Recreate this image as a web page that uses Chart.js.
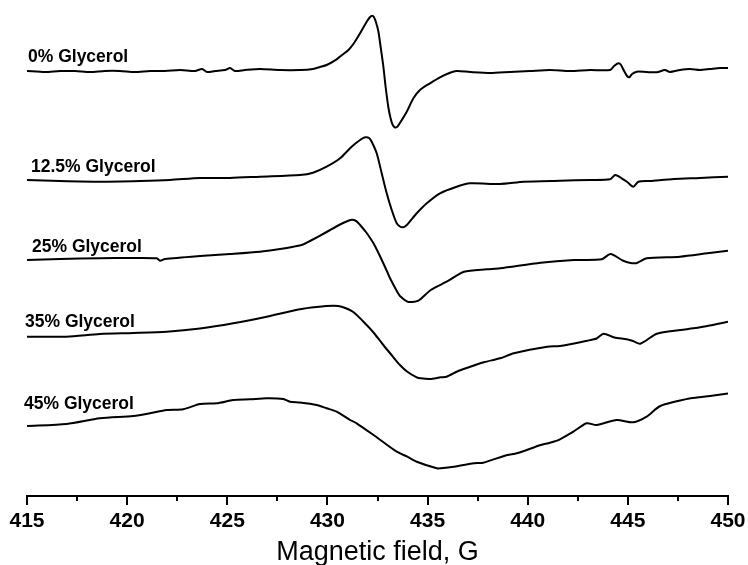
<!DOCTYPE html>
<html>
<head>
<meta charset="utf-8">
<script src="https://cdn.jsdelivr.net/npm/chart.js@4.4.1/dist/chart.umd.min.js"></script>
<style>
  html, body { margin: 0; padding: 0; background: #ffffff; }
  #wrap { width: 748px; height: 565px; }
</style>
</head>
<body>
<div id="wrap"><canvas id="c" width="748" height="565"></canvas></div>
<script>
// ---- data (magnetic field in G, EPR signal in arbitrary units, traces stacked) ----
const seriesNames = ["0% Glycerol", "12.5% Glycerol", "25% Glycerol", "35% Glycerol", "45% Glycerol"];
const xTicks = [415, 420, 425, 430, 435, 440, 445, 450];

const field0 = [415.00,415.90,416.65,417.40,418.15,418.89,419.64,420.39,421.14,421.89,422.64,423.39,423.74,423.99,424.39,424.89,425.14,425.38,425.88,426.63,427.63,428.63,429.28,429.63,429.96,430.46,430.73,431.05,431.33,431.63,431.96,432.13,432.23,432.32,432.42,432.54,432.65,432.79,432.90,433.04,433.15,433.25,433.37,433.50,433.62,433.96,434.29,434.62,435.12,435.62,436.12,436.45,437.12,438.12,439.11,440.11,441.11,442.11,443.11,444.11,444.31,444.53,444.66,444.81,444.96,445.07,445.21,445.45,445.91,446.44,446.85,447.10,447.60,448.10,448.60,449.10,449.60,450.00];
const signal0 = [425,424,425,425,424,425,425,424,425,425,426,425,427,424,425,426,428,425,426,427,426,426,427,429,431,436.7,441,446,453,462.7,474.3,479,480.3,479,474,465,450,430,410,389,378,371.5,368.5,369.5,373,384.3,397.7,406,412.7,418.7,423.3,425,424,423,424,425,426,425,426,426,430,432.7,431,425,420,418.7,422,424.3,424,423.7,426,424,426,427,426,427,428,428];

const field1 = [415.00,416.65,418.64,420.64,422.14,423.64,425.14,426.63,428.63,429.28,429.96,430.63,431.21,431.63,431.88,432.08,432.21,432.46,432.71,432.96,433.21,433.46,433.62,433.76,433.87,434.04,434.46,434.96,435.62,436.45,437.12,438.62,439.81,441.61,443.11,444.11,444.36,444.51,444.69,444.97,445.27,445.52,446.10,447.30,448.60,450.00];
const signal1 = [316,315,314.3,315,316,318,318,319.3,321,323.3,329.3,337.7,349.3,356,358.7,358,354.3,342.7,322.7,302.7,286,272.7,269.5,268.7,269.5,272.7,282.7,292.7,302.7,309.3,312.7,312,314.3,315.3,316,316.7,321,320,317.7,314,309.3,314.3,315,317,318,319.3];

const field2 = [415.00,416.65,418.64,420.14,421.48,421.64,421.89,423.64,425.14,426.63,427.63,428.30,428.78,429.13,429.96,430.63,431.16,431.43,431.63,431.96,432.13,432.32,432.62,432.99,433.12,433.49,433.62,433.99,434.22,434.54,435.16,435.95,436.82,437.95,438.62,440.65,442.31,443.69,444.14,444.77,445.37,445.94,447.60,448.97,450.00];
const signal2 = [236,237,237.7,238,237.7,235.3,237,240,242,244.3,247,249.3,251.5,255,264,271.5,276,275,271,263,258,252,240,224,218,204,200,194.3,194,195.3,206,214.3,224.3,226.7,227.7,233.3,236,236.7,242,235.3,232.7,237.7,239.3,242.7,245.3];

const field3 = [415.00,416.98,418.64,420.31,421.97,423.64,425.30,426.97,428.63,429.46,430.29,430.71,431.29,431.96,432.32,432.79,433.16,433.62,433.99,434.46,434.66,435.12,435.66,435.95,436.48,436.95,437.81,438.62,439.31,440.98,441.61,442.97,443.44,443.79,444.33,444.94,445.26,445.62,446.45,447.64,448.27,448.97,450.00];
const signal3 = [159.3,159.3,162,163,164.3,167.5,172.7,179.3,186.8,189,190.2,189.3,184,171,163,151,142,131,124.3,118.7,117.7,117,118.7,119.3,124.5,128,133.7,137.7,142.7,149.3,150,155.3,157.5,162.3,158.5,156.7,155,152.3,162.3,166,167.7,170,174.3];

const field4 = [415.00,416.98,418.64,420.31,421.14,421.97,422.80,423.64,424.47,425.30,426.13,426.97,427.80,428.13,428.63,429.46,429.96,430.46,431.13,431.46,432.37,433.46,433.99,434.46,435.46,435.66,436.12,437.32,437.78,438.98,439.45,440.65,441.11,441.61,442.28,442.94,443.44,444.44,445.27,445.94,446.62,448.13,449.10,450.00];
const signal4 = [70,72,77.7,80,82.7,86,86.7,92,92.7,96,96.7,97.7,97,94.3,93.5,91,87.7,84.3,76,72.7,60,44.3,39.3,34.3,27.7,27.7,28.7,32.7,33.3,41,42.7,51,53.3,56.7,64.3,72.7,71,76,73.7,79.3,90,97.7,100,102.5];

const fields = [field0, field1, field2, field3, field4];
const signals = [signal0, signal1, signal2, signal3, signal4];

// ---- styling for the in-plot trace labels (offsets in px from first point) ----
const labelStyle = [
  { dx: 1, dy: -9 },
  { dx: 4, dy: -8 },
  { dx: 5, dy: -8 },
  { dx: -2, dy: -10 },
  { dx: -3, dy: -17 }
];

const datasets = seriesNames.map((name, i) => ({
  label: name,
  data: fields[i].map((x, k) => ({ x: x, y: signals[i][k] })),
  borderColor: '#000000',
  borderWidth: 2,
  pointRadius: 0,
  fill: false,
  tension: 0.25
}));

const traceLabels = {
  id: 'traceLabels',
  afterDatasetsDraw(chart) {
    const ctx = chart.ctx;
    const xs = chart.scales.x, ys = chart.scales.y;
    ctx.save();
    ctx.fillStyle = '#000';
    ctx.font = 'bold 17.5px "Liberation Sans", Arial, sans-serif';
    ctx.textAlign = 'left';
    ctx.textBaseline = 'alphabetic';
    seriesNames.forEach((name, i) => {
      const px = xs.getPixelForValue(fields[i][0]) + labelStyle[i].dx;
      const py = ys.getPixelForValue(signals[i][0]) + labelStyle[i].dy;
      ctx.fillText(name, px, py);
    });
    ctx.restore();
  }
};

const tickMarks = {
  id: 'tickMarks',
  afterDraw(chart) {
    const ctx = chart.ctx;
    const xs = chart.scales.x;
    const y0 = chart.chartArea.bottom;
    ctx.save();
    ctx.strokeStyle = '#000';
    ctx.lineWidth = 2;
    ctx.beginPath();
    for (let v = xTicks[0]; v <= xTicks[xTicks.length - 1] + 1e-9; v += 2.5) {
      const major = Math.abs(v / 5 - Math.round(v / 5)) < 1e-6;
      const px = Math.round(xs.getPixelForValue(v));
      ctx.moveTo(px, y0);
      ctx.lineTo(px, y0 + (major ? 9 : 5));
    }
    ctx.stroke();
    ctx.restore();
  }
};

new Chart(document.getElementById('c'), {
  type: 'line',
  data: { datasets },
  options: {
    responsive: false,
    animation: false,
    devicePixelRatio: 1,
    layout: { padding: { left: 27, right: 20, top: 0, bottom: 0 } },
    plugins: { legend: { display: false }, tooltip: { enabled: false } },
    scales: {
      x: {
        type: 'linear',
        min: 415, max: 450,
        grid: { display: false, drawTicks: false },
        border: { display: true, color: '#000', width: 2 },
        afterBuildTicks(scale) { scale.ticks = xTicks.map(v => ({ value: v })); },
        afterFit(scale) { scale.height = 69; scale.paddingLeft = 0; scale.paddingRight = 0; },
        ticks: {
          color: '#000',
          padding: 13,
          maxRotation: 0,
          autoSkip: false,
          font: { family: '"Liberation Sans", Arial, sans-serif', size: 21, weight: 'bold' }
        },
        title: {
          display: true,
          text: 'Magnetic field, G',
          color: '#000',
          padding: 0,
          font: { family: '"Liberation Sans", Arial, sans-serif', size: 27, weight: 'normal', lineHeight: 0.9 }
        }
      },
      y: {
        type: 'linear',
        display: false,
        min: 0, max: 496
      }
    }
  },
  plugins: [traceLabels, tickMarks]
});
</script>
</body>
</html>
